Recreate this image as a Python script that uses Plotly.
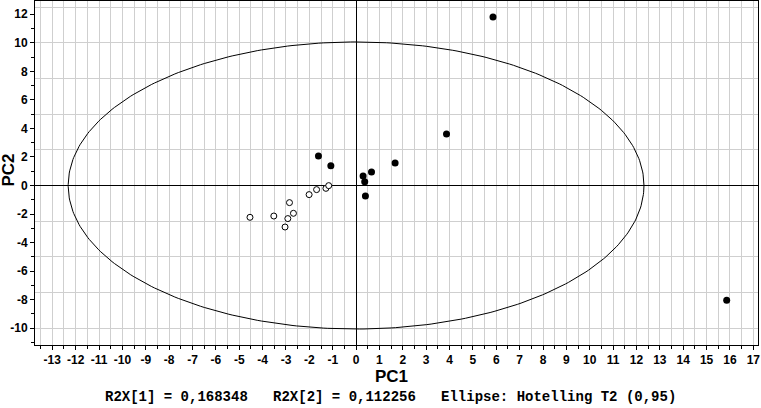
import numpy as np
import plotly.graph_objects as go

# Scores (PC1, PC2)
filled_pc1 = [5.86, 3.87, 15.86, -1.61, -1.08, 0.30, 0.37, 0.66, 1.67, 0.40]
filled_pc2 = [11.8, 3.6, -8.05, 2.07, 1.39, 0.67, 0.27, 0.95, 1.58, -0.74]
open_pc1 = [-4.54, -3.52, -2.92, -3.04, -2.68, -2.85, -2.01, -1.69, -1.29, -1.17]
open_pc2 = [-2.23, -2.14, -2.32, -2.91, -1.95, -1.20, -0.64, -0.29, -0.20, -0.01]

# Hotelling T2 (0.95) ellipse semi-axes
ell_a = 12.32
ell_b = 10.06

x_ticks = list(range(-13, 18))
y_ticks = list(range(-10, 13, 2))
footer = "R2X[1] = 0,168348   R2X[2] = 0,112256   Ellipse: Hotelling T2 (0,95)"

xr = [-13.74, 17.2]
yr = [-11.18, 12.93]

t = np.linspace(0, 2 * np.pi, 400)
fig = go.Figure()
fig.add_trace(go.Scatter(x=ell_a * np.cos(t), y=ell_b * np.sin(t), mode="lines",
                         line=dict(color="black", width=1), hoverinfo="skip", showlegend=False))
fig.add_trace(go.Scatter(x=open_pc1, y=open_pc2, mode="markers", showlegend=False,
                         marker=dict(size=6, color="white", line=dict(color="black", width=1))))
fig.add_trace(go.Scatter(x=filled_pc1, y=filled_pc2, mode="markers", showlegend=False,
                         marker=dict(size=7, color="black", line=dict(color="black", width=0))))

tickfont = dict(family="Liberation Sans, Arial, sans-serif", size=12, color="black")
grid_c = "#cfcfcf"

fig.update_layout(
    width=761, height=408,
    margin=dict(l=35, r=3, t=1, b=63),
    paper_bgcolor="white", plot_bgcolor="white",
    xaxis=dict(range=xr, tickmode="array", tickvals=x_ticks, ticktext=["<b>%d</b>" % v for v in x_ticks],
               automargin=False,
               ticks="outside", ticklen=4, tickcolor="black", tickfont=tickfont,
               showgrid=True, gridcolor=grid_c, gridwidth=1,
               minor=dict(dtick=0.5, tick0=0, ticks="outside", ticklen=3, tickcolor="black",
                          showgrid=True, gridcolor=grid_c, gridwidth=1),
               zeroline=True, zerolinecolor="black", zerolinewidth=1,
               showline=True, linecolor="black", linewidth=1, mirror=True),
    yaxis=dict(range=yr, tickmode="array", tickvals=y_ticks, ticktext=["<b>%d</b>" % v for v in y_ticks],
               automargin=False,
               ticks="outside", ticklen=4, tickcolor="black", tickfont=tickfont,
               showgrid=False,
               minor=dict(dtick=1, tick0=0, ticks="outside", ticklen=3, tickcolor="black", showgrid=False),
               zeroline=True, zerolinecolor="black", zerolinewidth=1,
               showline=True, linecolor="black", linewidth=1, mirror=True),
    yaxis2=dict(range=yr, overlaying="y", dtick=2.5, tick0=0, showgrid=True, gridcolor=grid_c,
                automargin=False,
                gridwidth=1, showticklabels=False, ticks="", zeroline=False, showline=False),
    annotations=[
        dict(text="<b>PC1</b>", xref="paper", yref="paper", x=0.493, y=-0.092, xanchor="center", yanchor="middle",
             showarrow=False, font=dict(family="Liberation Sans, Arial", size=17, color="black")),
        dict(text="<b>PC2</b>", xref="paper", yref="paper", x=-0.036, y=0.51, xanchor="center", yanchor="middle",
             textangle=-90, showarrow=False,
             font=dict(family="Liberation Sans, Arial", size=17, color="black")),
        dict(text="<b>" + footer.replace(" ", "&nbsp;") + "</b>", xref="paper", yref="paper", x=0.492, y=-0.152,
             xanchor="center", yanchor="middle", showarrow=False,
             font=dict(family="Liberation Mono, Courier New, monospace", size=14, color="black")),
    ],
)
# invisible trace to keep the overlay grid axis active
fig.add_trace(go.Scatter(x=[None], y=[None], yaxis="y2", showlegend=False, hoverinfo="skip"))

fig.write_html("out.html", config={"displayModeBar": False},
               post_script="document.body.style.margin='0';document.body.style.overflow='hidden';")
